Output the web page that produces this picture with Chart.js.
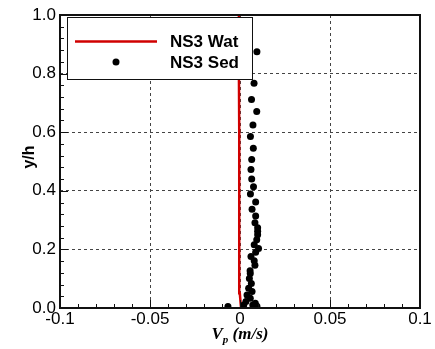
<!DOCTYPE html>
<html>
<head>
<meta charset="utf-8">
<script src="https://cdn.jsdelivr.net/npm/chart.js@4.4.1/dist/chart.umd.min.js"></script>
<style>
  html, body { margin: 0; padding: 0; background: #fff; }
</style>
</head>
<body>
<canvas id="chart" width="435" height="349"></canvas>
<script>
// NS3 water velocity profile (red line)
const watY = [0, 0.02, 0.05, 0.1, 0.2, 0.4, 0.6, 0.8, 1.0];
const watV = [0.0006, 0.0003, -0.0001, -0.0003, -0.0004, -0.0005, -0.0005, -0.0006, -0.0006];

// NS3 sediment particle velocity (black dots)
const sedY = [0.875, 0.767, 0.712, 0.671, 0.625, 0.585, 0.545, 0.507, 0.473, 0.440,
              0.414, 0.389, 0.362, 0.337, 0.314, 0.291, 0.274, 0.262, 0.250, 0.233,
              0.216, 0.203, 0.190, 0.176, 0.161, 0.146, 0.127, 0.118, 0.101, 0.084,
              0.067, 0.056, 0.044, 0.033, 0.022, 0.016, 0.010, 0.010, 0.005, 0.006];
const sedV = [0.0094, 0.0078, 0.0064, 0.0093, 0.0072, 0.0058, 0.0074, 0.0065, 0.0061, 0.0065,
              0.0075, 0.0058, 0.0087, 0.0067, 0.0087, 0.0083, 0.0098, 0.0098, 0.0098, 0.0093,
              0.0079, 0.0103, 0.0087, 0.0061, 0.0079, 0.0083, 0.0056, 0.0057, 0.0052, 0.0063,
              0.0048, 0.0067, 0.0039, 0.0057, 0.0033, 0.0085, 0.0021, 0.0071, -0.0067, 0.0094];

const xTicks = [-0.1, -0.05, 0, 0.05, 0.1];
const yTicks = [0, 0.2, 0.4, 0.6, 0.8, 1.0];
const legendLabels = ['NS3 Wat', 'NS3 Sed'];

const SANS = '"Liberation Sans", Arial, sans-serif';
const SERIF = '"Liberation Serif", "Times New Roman", serif';

// inward ticks, frame, legend box and axis titles
const decor = {
    id: 'decor',
    afterDatasetsDraw(chart) {
        const { ctx, chartArea: a, scales: { x, y } } = chart;
        ctx.save();
        ctx.strokeStyle = '#111';
        ctx.lineWidth = 1;
        ctx.beginPath();
        for (let i = 0; i <= 20; i++) {
            const v = -0.1 + i * 0.01;
            const px = Math.round(x.getPixelForValue(v)) + 0.5;
            const len = i % 5 === 0 ? 8 : 4;
            ctx.moveTo(px, a.bottom);
            ctx.lineTo(px, a.bottom - len);
        }
        for (let i = 0; i <= 25; i++) {
            const v = i * 0.04;
            const py = Math.round(y.getPixelForValue(v)) + 0.5;
            const len = i % 5 === 0 ? 8 : 4;
            ctx.moveTo(a.left, py);
            ctx.lineTo(a.left + len, py);
        }
        ctx.stroke();
        ctx.lineWidth = 2;
        ctx.strokeRect(a.left, a.top, a.right - a.left, a.bottom - a.top);
        ctx.restore();
    },
    afterDraw(chart) {
        const ctx = chart.ctx;
        ctx.save();
        // legend
        ctx.fillStyle = '#fff';
        ctx.fillRect(67, 17, 185, 62);
        ctx.strokeStyle = '#111';
        ctx.lineWidth = 1;
        ctx.strokeRect(67.5, 17.5, 185, 62);
        ctx.strokeStyle = '#d00000';
        ctx.lineWidth = 2.5;
        ctx.beginPath();
        ctx.moveTo(75, 41.5);
        ctx.lineTo(157, 41.5);
        ctx.stroke();
        ctx.fillStyle = '#000';
        ctx.beginPath();
        ctx.arc(116, 62, 3.5, 0, Math.PI * 2);
        ctx.fill();
        ctx.font = 'bold 17px ' + SANS;
        ctx.textAlign = 'left';
        ctx.textBaseline = 'alphabetic';
        ctx.fillStyle = '#000';
        ctx.fillText(legendLabels[0], 170, 47);
        ctx.fillText(legendLabels[1], 170, 68);

        // y title
        ctx.save();
        ctx.translate(30, 157);
        ctx.rotate(-Math.PI / 2);
        ctx.textAlign = 'center';
        ctx.textBaseline = 'middle';
        ctx.font = 'bold 16px ' + SANS;
        ctx.fillText('y/h', 0, 0);
        ctx.restore();

        // x title: V_p (m/s)
        const big = 'italic bold 17px ' + SERIF;
        const small = 'italic bold 11px ' + SERIF;
        ctx.font = big;
        const wV = ctx.measureText('V').width;
        const wRest = ctx.measureText(' (m/s)').width;
        ctx.font = small;
        const wp = ctx.measureText('p').width;
        let x0 = 240 - (wV + wp + wRest) / 2;
        const base = 339;
        ctx.textAlign = 'left';
        ctx.font = big;
        ctx.fillText('V', x0, base);
        ctx.font = small;
        ctx.fillText('p', x0 + wV, base + 4);
        ctx.font = big;
        ctx.fillText(' (m/s)', x0 + wV + wp, base);
        ctx.restore();
    }
};

const gridColor = c => (c.index === 0 || c.index === c.scale.ticks.length - 1) ? 'rgba(0,0,0,0)' : '#444';

new Chart(document.getElementById('chart'), {
    type: 'scatter',
    data: {
        datasets: [
            {
                label: legendLabels[1],
                data: sedV.map((v, i) => ({ x: v, y: sedY[i] })),
                backgroundColor: '#000',
                borderColor: '#000',
                pointRadius: 3.5,
                pointBorderWidth: 0,
                showLine: false
            },
            {
                label: legendLabels[0],
                data: watV.map((v, i) => ({ x: v, y: watY[i] })),
                borderColor: '#d00000',
                borderWidth: 2.5,
                pointRadius: 0,
                showLine: true,
                tension: 0
            }
        ]
    },
    options: {
        responsive: false,
        animation: false,
        events: [],
        layout: { padding: { top: 15, right: 15, left: 0, bottom: 0 } },
        plugins: { legend: { display: false }, tooltip: { enabled: false } },
        scales: {
            x: {
                type: 'linear',
                min: -0.1,
                max: 0.1,
                afterBuildTicks: s => { s.ticks = xTicks.map(v => ({ value: v })); },
                afterFit: s => { s.height = 41; s.paddingLeft = 0; s.paddingRight = 0; },
                border: { display: false, dash: [3, 3] },
                grid: { color: gridColor, lineWidth: 1, drawTicks: false },
                ticks: {
                    padding: 1,
                    color: '#000',
                    font: { family: SANS, size: 17 },
                    maxRotation: 0,
                    callback: v => String(+v.toFixed(2))
                }
            },
            y: {
                type: 'linear',
                min: 0,
                max: 1,
                afterBuildTicks: s => { s.ticks = yTicks.map(v => ({ value: v })); },
                afterFit: s => { s.width = 60; s.paddingTop = 0; s.paddingBottom = 0; },
                border: { display: false, dash: [3, 3] },
                grid: { color: gridColor, lineWidth: 1, drawTicks: false },
                ticks: {
                    padding: 4,
                    color: '#000',
                    font: { family: SANS, size: 17 },
                    callback: v => v.toFixed(1)
                }
            }
        }
    },
    plugins: [decor]
});
</script>
</body>
</html>
